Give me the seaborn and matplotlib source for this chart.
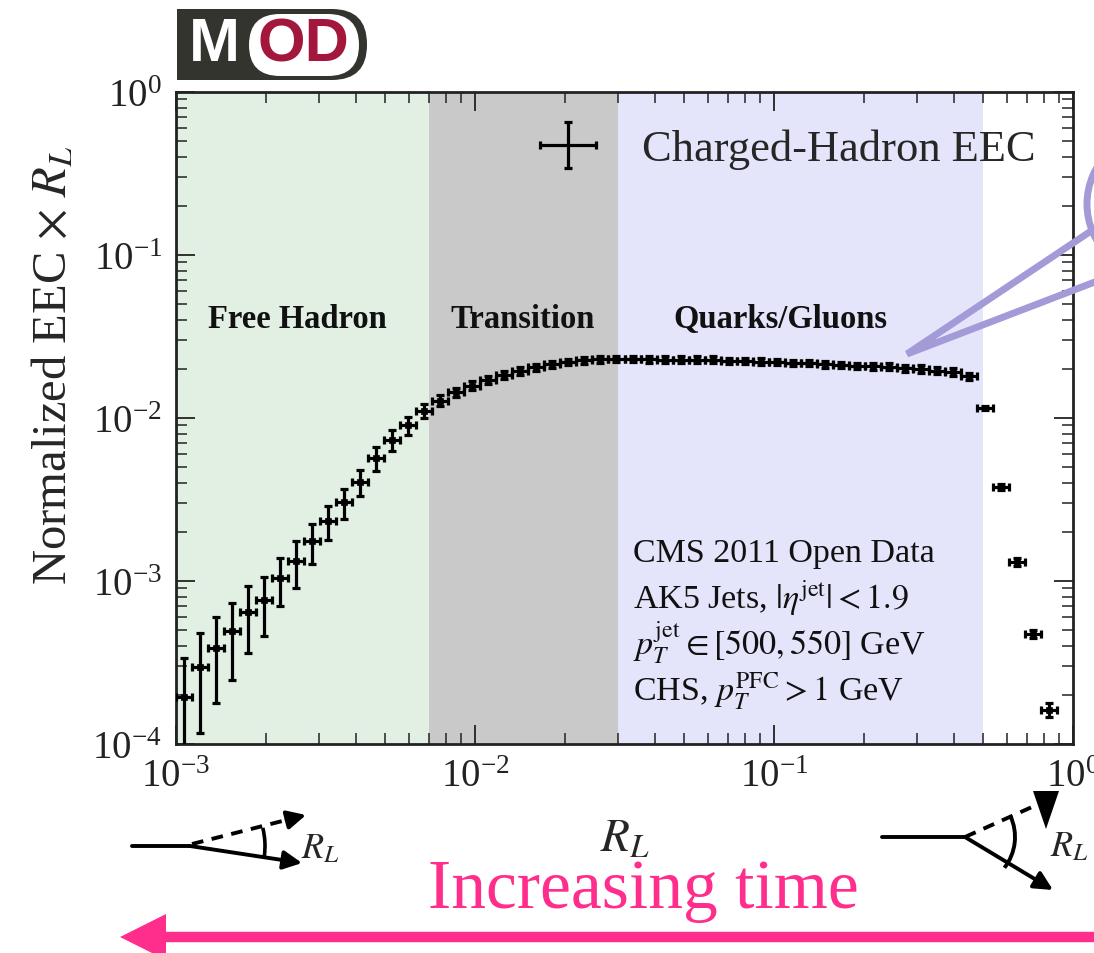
import numpy as np
import pandas as pd
import matplotlib
matplotlib.use("Agg")
import matplotlib.pyplot as plt
import seaborn as sns
from matplotlib.patches import FancyBboxPatch, Rectangle, Polygon, Ellipse, Arc
from matplotlib.lines import Line2D
from matplotlib.transforms import IdentityTransform, blended_transform_factory
from matplotlib.legend_handler import HandlerErrorbar

# ---------------------------------------------------------------- data
# R_L binning: 56 logarithmic bins on [1e-3, 1]; the last bin is empty
all_edges = np.logspace(-3, 0, 57)

eec = [1.94e-4, 2.97e-4, 3.88e-4, 4.93e-4, 6.45e-4, 7.6e-4, 1.04e-3, 1.33e-3,
       1.76e-3, 2.33e-3, 3.04e-3, 4.05e-3, 5.69e-3, 7.33e-3, 9.06e-3, 1.11e-2,
       1.277e-2, 1.438e-2, 1.58e-2, 1.72e-2, 1.837e-2, 1.95e-2, 2.05e-2, 2.135e-2,
       2.21e-2, 2.26e-2, 2.29e-2, 2.30e-2, 2.30e-2, 2.29e-2, 2.28e-2, 2.28e-2,
       2.28e-2, 2.28e-2, 2.25e-2, 2.23e-2, 2.22e-2, 2.21e-2, 2.18e-2, 2.17e-2,
       2.14e-2, 2.12e-2, 2.09e-2, 2.07e-2, 2.06e-2, 2.02e-2, 2.00e-2, 1.95e-2,
       1.92e-2, 1.80e-2, 1.15e-2, 3.78e-3, 1.31e-3, 4.73e-4, 1.62e-4]

eec_err = [1.43e-4, 1.8e-4, 2.1e-4, 2.45e-4, 2.85e-4, 3.0e-4, 3.4e-4, 4.2e-4,
           4.8e-4, 5.4e-4, 6.3e-4, 7.4e-4, 9.5e-4, 1.07e-3, 1.15e-3, 1.1e-3,
           1.0e-3, 9.0e-4, 9.5e-4, 1.0e-3, 1.05e-3, 1.05e-3, 1.05e-3, 1.05e-3,
           1.05e-3, 1.05e-3, 1.05e-3, 1.05e-3, 1.05e-3, 1.05e-3, 1.05e-3, 1.05e-3,
           1.05e-3, 1.05e-3, 1.0e-3, 1.0e-3, 1.0e-3, 1.0e-3, 1.0e-3, 1.0e-3,
           1.0e-3, 1.0e-3, 1.0e-3, 1.0e-3, 1.0e-3, 1.0e-3, 1.0e-3, 1.0e-3,
           1.0e-3, 1.0e-3, 3.5e-4, 1.5e-4, 6.6e-5, 2.9e-5, 1.6e-5]

regions = ["Free Hadron", "Transition", "Quarks/Gluons"]
region_bounds = [(1e-3, 7e-3), (7e-3, 3e-2), (3e-2, 0.5)]
region_colors = ["#E2F0E4", "#C9C9C9", "#E4E4FA"]
region_label_x = [2.54e-3, 1.44e-2, 1.05e-1]

info_lines = ["CMS 2011 Open Data",
              r"AK5 Jets, $|\eta^{\rm jet}| < 1.9$",
              r"$p_T^{\rm jet} \in [500, 550]$ GeV",
              r"CHS, $p_T^{\rm PFC} > 1$ GeV"]

# ---------------------------------------------------------------- style
sns.set_theme(style="ticks")
plt.rcParams["font.family"] = ["Liberation Serif", "DejaVu Serif"]
plt.rcParams["mathtext.fontset"] = "stix"
plt.rcParams["axes.unicode_minus"] = False

W, H = 1094, 954
fig = plt.figure(figsize=(W / 100, H / 100), dpi=100)
fig.patch.set_facecolor("white")
ax = fig.add_axes([176 / W, 1 - 745 / H, (1073 - 176) / W, (745 - 93) / H])
ax.set_facecolor("white")

n = len(eec)
lo = all_edges[:n]
hi = all_edges[1:n + 1]
centers = np.sqrt(lo * hi)
df = pd.DataFrame({"R_L": centers, "eec": eec, "err": eec_err})

for (x0, x1), c in zip(region_bounds, region_colors):
    ax.axvspan(x0, x1, color=c, lw=0, zorder=0)

trans = blended_transform_factory(ax.transData, ax.transAxes)
for name, xl in zip(regions, region_label_x):
    ax.text(xl, 0.652, name, transform=trans, ha="center", va="center",
            fontsize=23.5, fontweight="bold", color="#111111")

eb = ax.errorbar(df["R_L"], df["eec"], yerr=df["err"],
                 xerr=[df["R_L"] - lo, hi - df["R_L"]],
                 fmt="none", ecolor="black", elinewidth=2.3, capsize=3,
                 capthick=2.3, zorder=3, label="Charged-Hadron EEC")
sns.scatterplot(data=df, x="R_L", y="eec", marker="s", s=24, color="black",
                edgecolor="black", linewidth=0.5, ax=ax, legend=False, zorder=4)

ax.set_xscale("log")
ax.set_yscale("log")
ax.set_xlim(1e-3, 1)
ax.set_ylim(1e-4, 1)
ax.set_xlabel(r"$R_L$", fontsize=34, labelpad=17)
ax.set_ylabel(r"Normalized EEC $\times$ $R_L$", fontsize=35)
ax.yaxis.set_label_coords(-0.111, 0.583)
ax.tick_params(which="both", direction="in", top=True, right=True,
               colors="#222222", labelsize=28)
ax.tick_params(which="major", length=14, width=1.3, pad=10)
ax.tick_params(which="minor", length=8, width=1.1)
for s in ax.spines.values():
    s.set_linewidth(2.0)
    s.set_color("#222222")

leg = ax.legend(handles=[eb], labels=["Charged-Hadron EEC"], frameon=False,
                fontsize=32, loc="center right", borderpad=0, borderaxespad=0,
                bbox_to_anchor=((1036 - 176) / 897, (745 - 150) / 652),
                handlelength=2.0, handletextpad=0.667,
                handler_map={type(eb): HandlerErrorbar(xerr_size=0.63, yerr_size=0.52)})

for i, line in enumerate(info_lines):
    ax.text((633 - 176) / 897, (745 - 562 - 46.5 * i) / 652, line,
            transform=ax.transAxes, ha="left", va="baseline", fontsize=24.5,
            color="#111111")

# ---------------------------------------------------------------- overlays (figure pixels)
ident = IdentityTransform()


def P(x, y):
    return (x, H - y)


# group logo
dark, crimson = "#34342F", "#A3173C"
fig.add_artist(FancyBboxPatch(P(177, 81), 190, 71, boxstyle="round,pad=0,rounding_size=35",
                              fc=dark, ec="none", transform=ident))
fig.add_artist(Rectangle(P(177, 81), 80, 71, fc=dark, ec="none", transform=ident))
fig.add_artist(FancyBboxPatch(P(249, 77), 110, 62, boxstyle="round,pad=0,rounding_size=31",
                              fc="white", ec="none", transform=ident))
fig.text(*P(214, 46), "M", transform=ident, ha="center", va="center",
         fontsize=44, fontweight="bold", color="white", family="Liberation Sans")
fig.text(*P(303, 46), "OD", transform=ident, ha="center", va="center",
         fontsize=44, fontweight="bold", color=crimson, family="Liberation Sans")

# callout pointing at the plateau
lav = "#A29BD8"
fig.add_artist(Line2D([1100, 907, 1100], [H - 226, H - 355, H - 281], color=lav, lw=5,
                      solid_joinstyle="miter", transform=ident))
fig.add_artist(Ellipse(P(1165, 205), 156, 150, fill=False, ec=lav, lw=5, transform=ident))


# small splitting sketches under the axis
def arrow(p0, p1, dashed=False, ms=28):
    if dashed:
        d = np.array(p1) - np.array(p0)
        cut = np.array(p1) - d / np.linalg.norm(d) * 18
        fig.add_artist(Line2D([p0[0], cut[0]], [H - p0[1], H - cut[1]], color="black",
                              lw=2.8, ls=(0, (3, 2.2)), transform=ident))
        p0 = tuple(np.array(p1) - d / np.linalg.norm(d) * 20)
    ax.annotate("", xy=P(*p1), xytext=P(*p0), xycoords=ident, textcoords=ident,
                arrowprops=dict(arrowstyle="-|>", color="black", lw=2.8,
                                mutation_scale=ms, shrinkA=0, shrinkB=0),
                annotation_clip=False)


fig.add_artist(Line2D([132, 190], [H - 847, H - 847], color="black", lw=2.8, transform=ident))
arrow((190, 847), (302, 864))
arrow((192, 845), (306, 816), dashed=True)
fig.add_artist(Arc(P(190, 847), 150, 150, theta1=-8, theta2=14, color="black", lw=2.6,
                   transform=ident))
fig.text(*P(320, 850), r"$R_L$", transform=ident, ha="center", va="center", fontsize=26)

fig.add_artist(Line2D([882, 965], [H - 838, H - 838], color="black", lw=2.8, transform=ident))
arrow((965, 838), (1053, 891))
fig.add_artist(Line2D([965, 1032], [H - 838, H - 808], color="black", lw=2.8,
                      ls=(0, (3, 2.2)), transform=ident))
fig.add_artist(Polygon([P(1033, 792), P(1059, 792), P(1046, 830)], closed=True,
                       fc="black", ec="none", transform=ident))
fig.add_artist(Arc(P(965, 838), 100, 100, theta1=-38, theta2=25, color="black", lw=2.8,
                   transform=ident))
fig.text(*P(1069, 848), r"$R_L$", transform=ident, ha="center", va="center", fontsize=26)

# time arrow
pink = "#FF2D8C"
fig.text(*P(643, 908), "Increasing time", transform=ident, ha="center", va="baseline",
         fontsize=50, color=pink)
fig.add_artist(Line2D([160, 1100], [H - 938, H - 938], color=pink, lw=7.5,
                      solid_capstyle="butt", transform=ident))
fig.add_artist(Polygon([P(120, 938), P(166, 915), P(166, 961)], closed=True,
                       fc=pink, ec="none", transform=ident))

fig.savefig("out.png", dpi=100)
